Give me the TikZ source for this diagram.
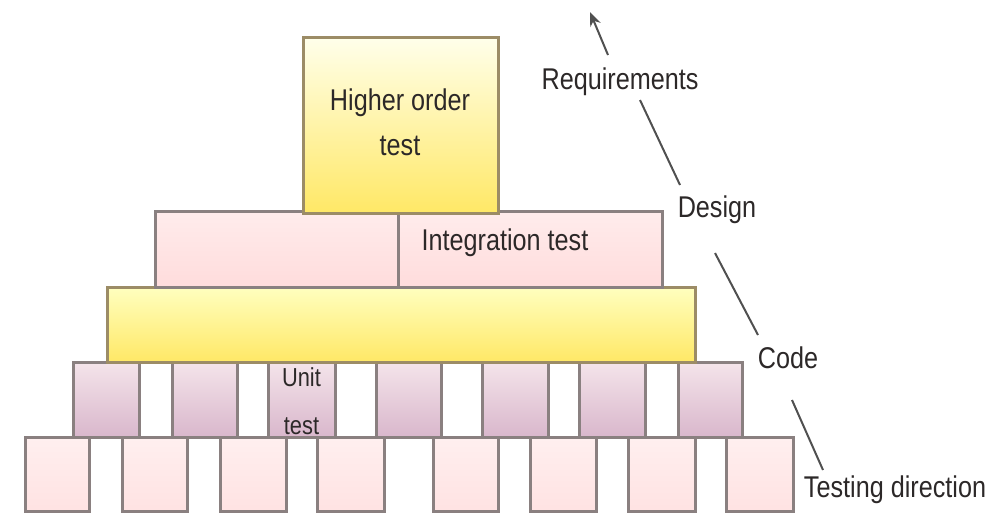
\documentclass[tikz,border=0pt]{standalone}
\usepackage{fontspec}
\setmainfont{Liberation Sans}[FakeStretch=0.84]
\usetikzlibrary{arrows.meta}
\definecolor{edge}{HTML}{8A8080}
\definecolor{yedge}{HTML}{9C8C66}
\definecolor{ink}{HTML}{2C2828}
\definecolor{conncol}{HTML}{505050}
\definecolor{unittop}{HTML}{F4E4EA}
\definecolor{unitbot}{HTML}{D9B7CC}
\tikzset{
  blk/.style={draw=edge, line width=3pt, inner sep=0pt, rectangle},
  ybox/.style={blk, draw=yedge, top color=#1, bottom color=yellow!70!orange!60!white},
  pinkbox/.style={blk, top color=pink!30!white, bottom color=pink!55!white},
  unitbox/.style={blk, top color=unittop, bottom color=unitbot, minimum height=75pt},
  lowbox/.style={blk, top color=pink!25!white, bottom color=pink!45!white, minimum height=74pt},
  lbl/.style={font=\fontsize{30}{45}\selectfont, text=ink, inner sep=0pt, align=center},
  conn/.style={draw=conncol, line width=2pt}
}
\begin{document}
\begin{tikzpicture}[x=1pt,y=-1pt]
\useasboundingbox (0,0) rectangle (995,520);
% bottom row
\foreach \a/\b [count=\i] in {25/89,122/187,220/286,317/384,433/498,530/596,628/695,726/793}{
  \node[lowbox, minimum width={\b-\a}] (low\i) at ({(\a+\b)/2},474) {};
}
% unit row
\foreach \a/\b [count=\i] in {73/139,172/237,268/335,376/441,482/548,579/645,678/742}{
  \node[unitbox, minimum width={\b-\a}] (unit\i) at ({(\a+\b)/2},399.5) {};
}
\node[lbl, font=\fontsize{26}{48}\selectfont] (unittext) at ([yshift=-2pt]unit3.center) {Unit\\test};
% code bar
\node[ybox=yellow!25!white, minimum width=588pt, minimum height=75pt] (codebar) at (401,324.5) {};
% integration row
\node[pinkbox, minimum width=243pt, minimum height=76pt] (intL) at (276.5,249) {};
\node[pinkbox, minimum width=264pt, minimum height=76pt] (intR) at (530,249) {};
\node[lbl] (inttext) at (505,243) {Integration test};
% higher order
\node[ybox=yellow!8!white, minimum width=195pt, minimum height=176pt] (hot) at (400.5,125) {};
\node[lbl] (hottext) at (400,122) {Higher order\\test};
% direction labels
\node[lbl] (req) at (620,82) {Requirements};
\node[lbl] (des) at (717,210) {Design};
\node[lbl] (code) at (788,358) {Code};
\node[lbl] (td) at (895,490) {Testing direction};
\coordinate (tip) at (590,12);
\draw[conn] ([shift={(-72,-20)}]td.center) -- ([shift={(4,42)}]code.center);
\draw[conn] ([shift={(-30,-23)}]code.center) -- ([shift={(-2,43)}]des.center);
\draw[conn] ([shift={(-37,-25)}]des.center) -- ([shift={(20,18)}]req.center);
\draw[conn, -{Stealth[length=14pt,width=11pt]}] ([shift={(-12,-27)}]req.center) -- (tip);
\end{tikzpicture}
\end{document}
